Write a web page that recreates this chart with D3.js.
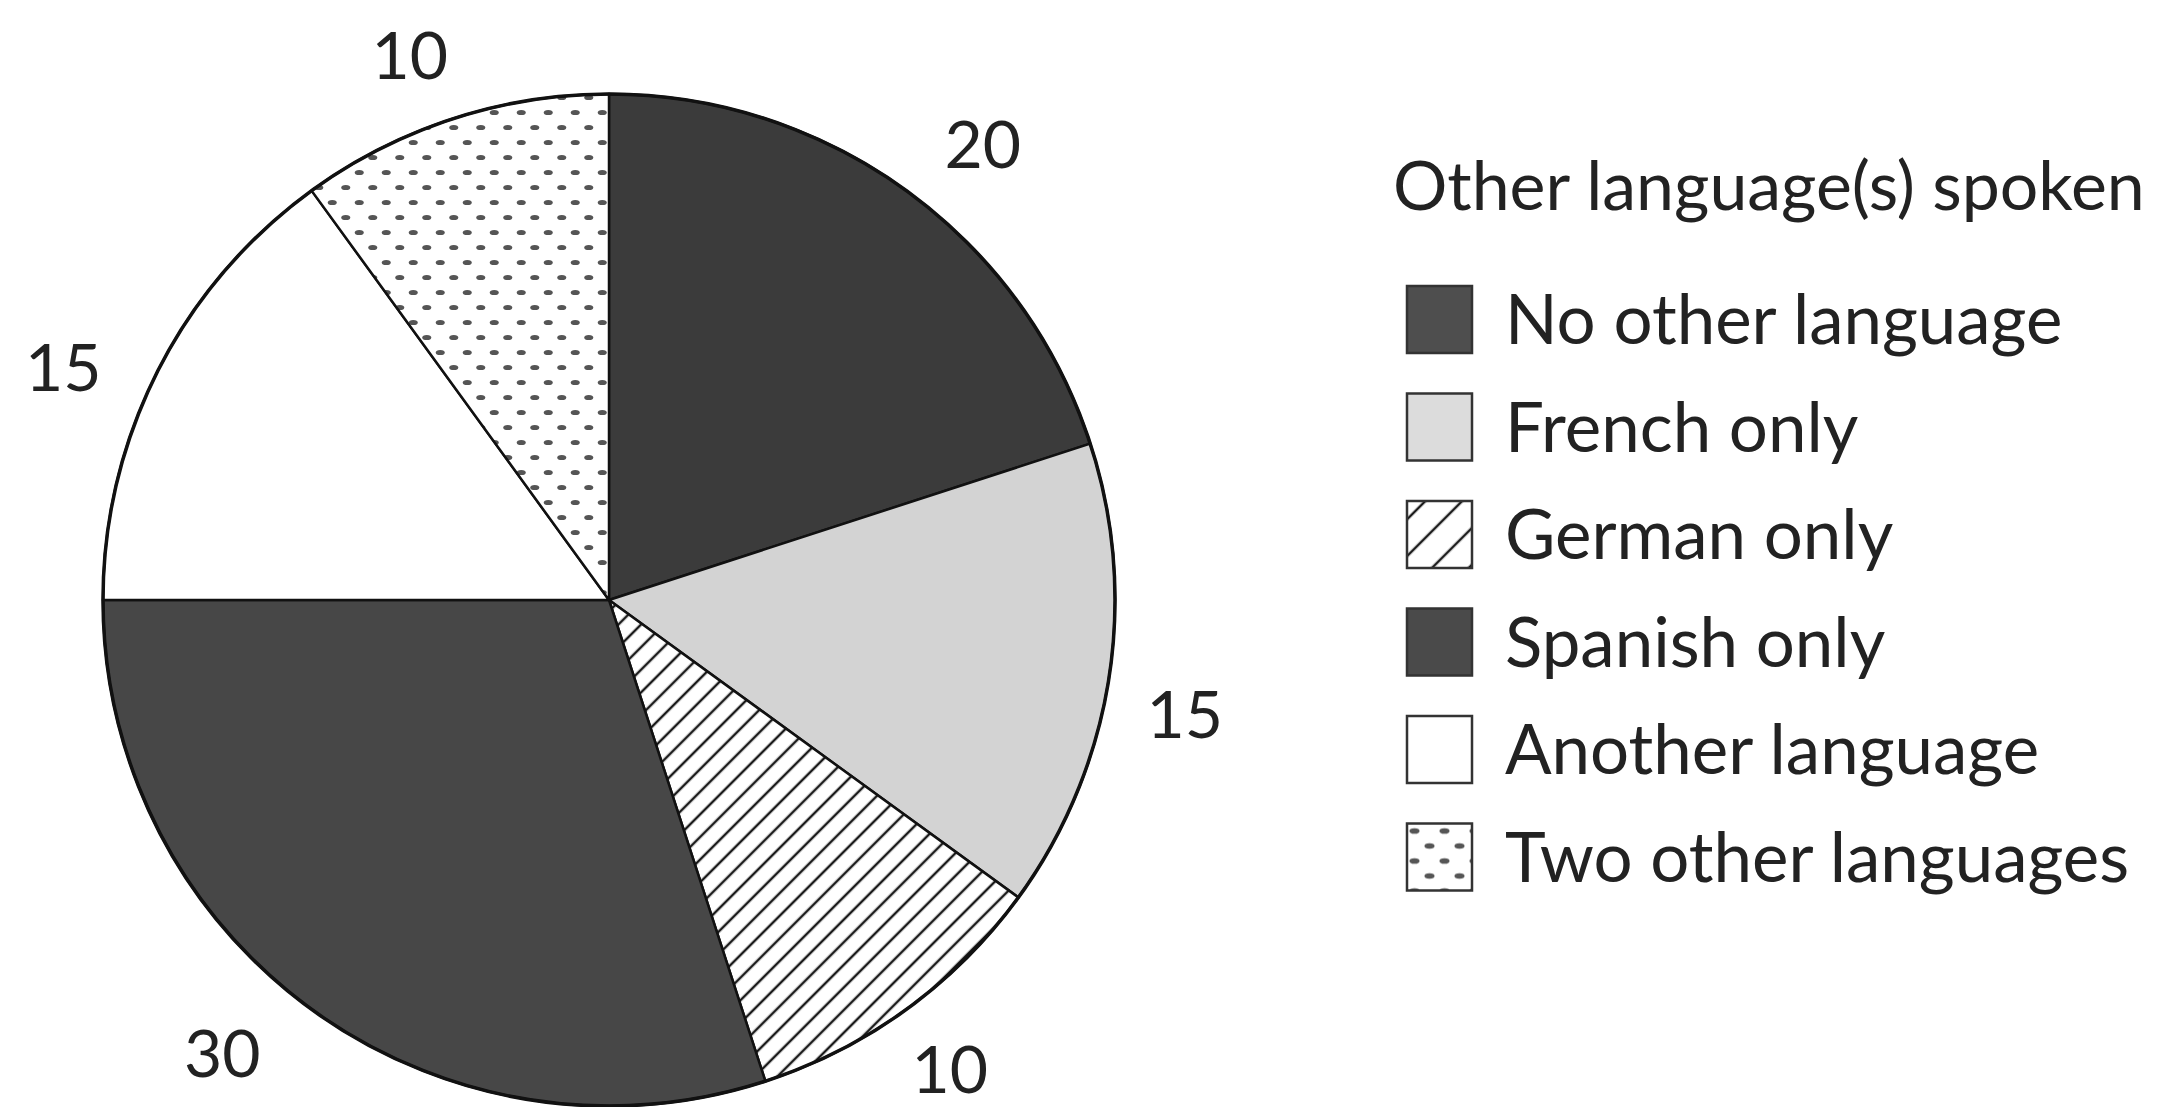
<!DOCTYPE html>
<html>
<head>
<meta charset="utf-8">
<script src="https://cdn.jsdelivr.net/npm/d3@7"></script>
<style>
  body { margin: 0; background: #fff; }
  text { font-family: Lato, "Open Sans", sans-serif; fill: #222; }
</style>
</head>
<body>
<script>
// Data
const categories = ["No other language", "French only", "German only", "Spanish only", "Another language", "Two other languages"];
const values = [20, 15, 10, 30, 15, 10];
const sliceLabels = ["20", "15", "10", "30", "15", "10"];
const legendTitle = "Other language(s) spoken";

// small hand nudges for the value labels (px), the original places them by hand
const labelNudge = [[27, 22], [-7, 22], [-6, -8], [-40, -24], [-20, 35], [-17, 16]];

var width = 2165, height = 1107;
var cx = 609, cy = 600, radius = 506;

var svg = d3.select("body").append("svg")
  .attr("width", width)
  .attr("height", height);

var defs = svg.append("defs");

// diagonal hatch for German
function hatch(id, gap) {
  var p = defs.append("pattern")
    .attr("id", id)
    .attr("patternUnits", "userSpaceOnUse")
    .attr("width", gap)
    .attr("height", gap)
    .attr("patternTransform", "rotate(45)");
  p.append("rect").attr("width", gap).attr("height", gap).attr("fill", "#fff");
  p.append("line")
    .attr("x1", gap / 2).attr("y1", 0)
    .attr("x2", gap / 2).attr("y2", gap)
    .attr("stroke", "#1a1a1a")
    .attr("stroke-width", 2.5);
}
hatch("hatch", 16);
hatch("hatchLegend", 26);

// dotted fill for two other languages
function dots(id, w, h, rx, ry) {
  var p = defs.append("pattern")
    .attr("id", id)
    .attr("patternUnits", "userSpaceOnUse")
    .attr("width", w)
    .attr("height", h);
  p.append("rect").attr("width", w).attr("height", h).attr("fill", "#fff");
  [[w / 4, h / 4], [w * 3 / 4, h * 3 / 4]].forEach(function(c) {
    p.append("ellipse")
      .attr("cx", c[0]).attr("cy", c[1])
      .attr("rx", rx).attr("ry", ry)
      .attr("fill", "#555");
  });
}
dots("dots", 27, 30, 4.5, 2.6);
dots("dotsLegend", 30, 30, 5, 2.8);

var color = d3.scaleOrdinal()
  .domain(categories)
  .range(["#3b3b3b", "#d3d3d3", "url(#hatch)", "#474747", "#ffffff", "url(#dots)"]);

var legendColor = d3.scaleOrdinal()
  .domain(categories)
  .range(["#4e4e4e", "#dcdcdc", "url(#hatchLegend)", "#4a4a4a", "#ffffff", "url(#dotsLegend)"]);

var pie = d3.pie().sort(null).value(function(d) { return d; });
var arcs = pie(values);

var arc = d3.arc().innerRadius(0).outerRadius(radius);
var labelArc = d3.arc().innerRadius(590).outerRadius(590);

var g = svg.append("g")
  .attr("transform", "translate(" + cx + "," + cy + ")");

g.selectAll(".slice")
  .data(arcs)
  .enter().append("path")
  .attr("class", "slice")
  .attr("d", arc)
  .attr("fill", function(d, i) { return color(categories[i]); })
  .attr("stroke", "#111")
  .attr("stroke-width", 2.5)
  .attr("stroke-linejoin", "round");

// outer ring
g.append("circle")
  .attr("r", radius)
  .attr("fill", "none")
  .attr("stroke", "#111")
  .attr("stroke-width", 3.5);

// value labels
g.selectAll(".lbl")
  .data(arcs)
  .enter().append("text")
  .attr("class", "lbl")
  .attr("transform", function(d, i) {
    var c = labelArc.centroid(d);
    return "translate(" + (c[0] + labelNudge[i][0]) + "," + (c[1] + labelNudge[i][1]) + ")";
  })
  .attr("text-anchor", "middle")
  .attr("dy", "0.36em")
  .style("font-size", "66px")
  .text(function(d, i) { return sliceLabels[i]; });

// legend
svg.append("text")
  .attr("x", 1393)
  .attr("y", 210)
  .style("font-size", "68px")
  .text(legendTitle);

var legend = svg.selectAll(".legend")
  .data(categories)
  .enter().append("g")
  .attr("class", "legend")
  .attr("transform", function(d, i) { return "translate(1407," + (286 + i * 107.5) + ")"; });

legend.append("rect")
  .attr("width", 65)
  .attr("height", 67)
  .attr("fill", function(d) { return legendColor(d); })
  .attr("stroke", "#333")
  .attr("stroke-width", 2.5);

legend.append("text")
  .attr("x", 98)
  .attr("y", 58)
  .style("font-size", "69px")
  .text(function(d) { return d; });
</script>
</body>
</html>
